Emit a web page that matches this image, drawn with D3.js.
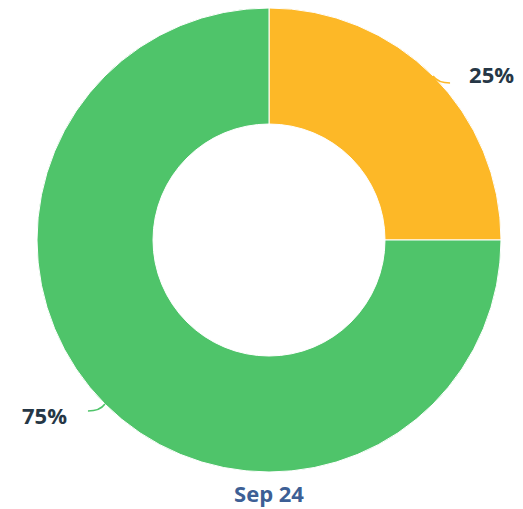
<!DOCTYPE html>
<html>
<head>
<meta charset="utf-8">
<script src="https://cdn.jsdelivr.net/npm/d3@7"></script>
<style>
  html, body { margin: 0; padding: 0; background: #fff; }
  #chart { width: 523px; height: 509px; }
</style>
</head>
<body>
<div id="chart"></div>
<script>
const categories = ["Done", "Remaining"];
const values = [25, 75];
const sliceColors = ["#FDB827", "#4FC46A"];
const caption = "Sep 24";

const width = 523, height = 509;
const cx = 269, cy = 240;
const outerR = 232, innerR = 116;

const svg = d3.select("#chart").append("svg")
  .attr("width", width)
  .attr("height", height)
  .style("font-family", "'Open Sans', sans-serif");

const g = svg.append("g").attr("transform", `translate(${cx},${cy})`);

const pie = d3.pie().sort(null).value(d => d);
const arcs = pie(values);

const arc = d3.arc().innerRadius(innerR).outerRadius(outerR);

g.selectAll("path.slice")
  .data(arcs)
  .join("path")
    .attr("class", "slice")
    .attr("d", arc)
    .attr("fill", (d, i) => sliceColors[i])
    .attr("stroke", "#fff")
    .attr("stroke-width", 1);

// labels with curved connectors
const total = d3.sum(values);
arcs.forEach((d, i) => {
  const mid = (d.startAngle + d.endAngle) / 2;
  const sx = Math.sin(mid), sy = -Math.cos(mid);
  const p0 = [sx * outerR, sy * outerR];
  const right = sx >= 0;
  const dir = right ? 1 : -1;
  const p1 = [p0[0] + dir * 17, p0[1] - 7 * Math.sign(sy) * (right ? 1 : -1)];
  const path = d3.path();
  path.moveTo(p0[0], p0[1]);
  path.quadraticCurveTo(p0[0] + dir * 5, p1[1], p1[0], p1[1]);
  g.append("path")
    .attr("d", path.toString())
    .attr("fill", "none")
    .attr("stroke", sliceColors[i])
    .attr("stroke-width", 1.5);

  const pct = Math.round(d.value / total * 100) + "%";
  g.append("text")
    .attr("x", right ? p0[0] + 36 : p0[0] - 38)
    .attr("y", right ? p0[1] - 1 : p0[1] + 12)
    .attr("dy", "0.35em")
    .attr("text-anchor", right ? "start" : "end")
    .attr("font-size", 22)
    .attr("font-weight", 700)
    .attr("fill", "#263746")
    .text(pct);
});

svg.append("text")
  .attr("x", cx)
  .attr("y", 494)
  .attr("dy", "0.35em")
  .attr("text-anchor", "middle")
  .attr("font-size", 22)
  .attr("font-weight", 700)
  .attr("fill", "#3D5F95")
  .text(caption);
</script>
</body>
</html>
